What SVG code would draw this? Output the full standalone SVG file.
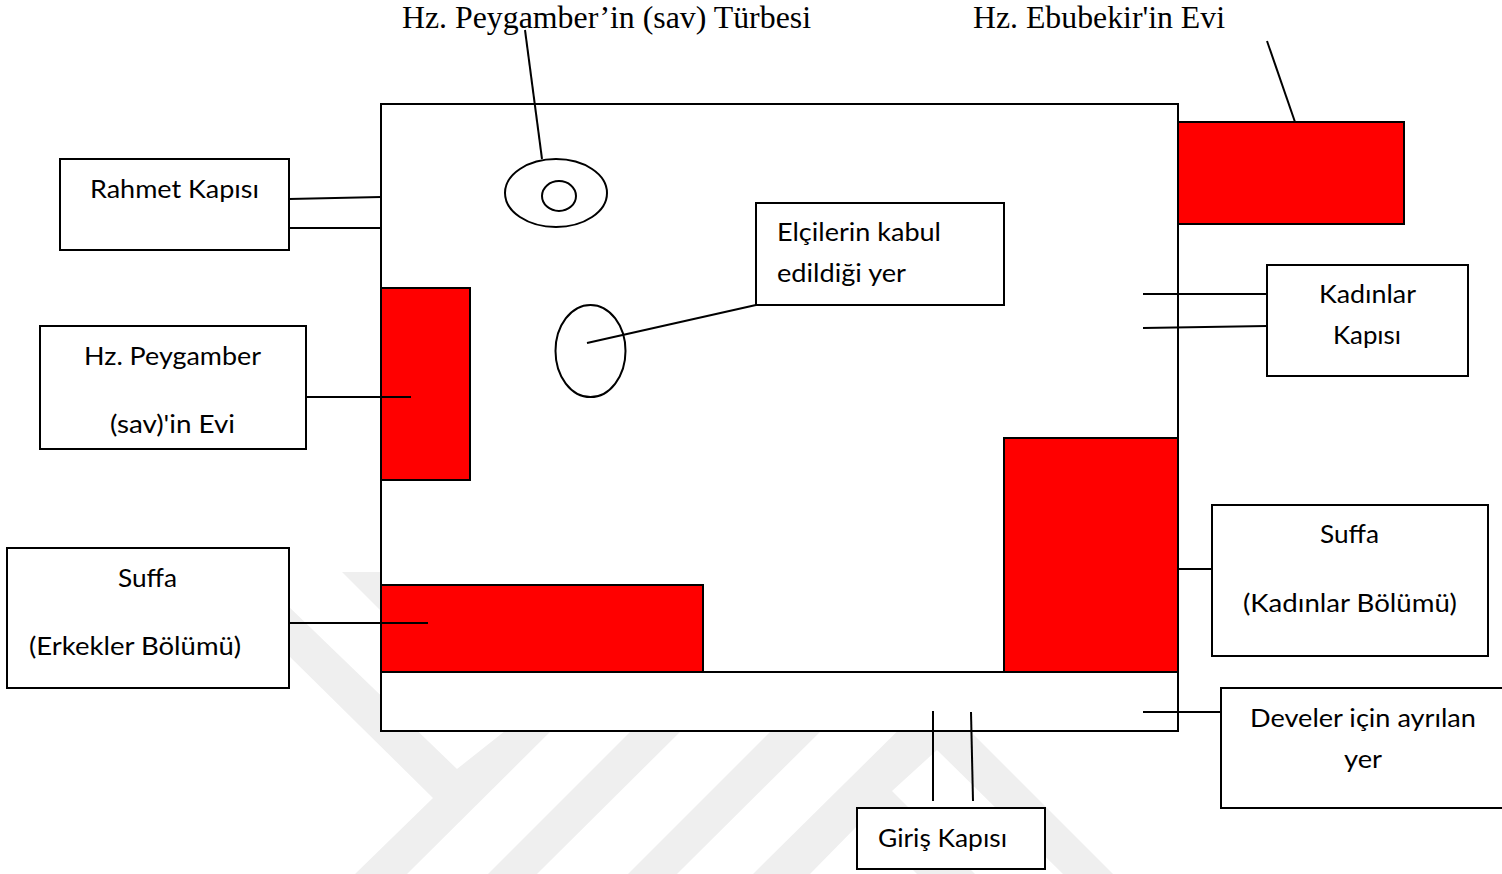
<svg xmlns="http://www.w3.org/2000/svg" width="1502" height="874" viewBox="0 0 1502 874">
<style>
.wm{fill:#efefef;stroke:none}
.box{fill:#ffffff;stroke:#000;stroke-width:2}
.red{fill:#ff0000;stroke:#000;stroke-width:2}
.ell{fill:#ffffff;stroke:#000;stroke-width:2}
.ln{fill:none;stroke:#000;stroke-width:2}
.lb{font-family:"Lato","Noto Sans",sans-serif;font-size:25px;fill:#000}
.tt{font-family:"Liberation Serif",serif;font-size:32px;fill:#000}
</style>
<rect width="1502" height="874" fill="#ffffff"/>
<g id="watermark">
<polygon class="wm" points="342,572 400,572 400,630"/>
<polygon class="wm" points="285,603 457,769 510,727 555,727 407,874 355,874 433,798 285,652"/>
<polygon class="wm" points="488,874 637,725 687,725 537,874"/>
<polygon class="wm" points="628,874 777,725 827,725 677,874"/>
<polygon class="wm" points="753,874 934,695 1113,874 1063,874 937,750 892,791 975,874 917,874 863,820 810,874"/>
</g>
<g id="plan">
<rect id="frame" class="box" x="381" y="104" width="797" height="627"/>
<line class="ln" x1="381" y1="672" x2="1178" y2="672"/>
</g>
<g id="red-areas">
<rect id="ev-peygamber" class="red" x="381" y="288" width="89" height="192"/>
<rect id="suffa-erkekler" class="red" x="381" y="585" width="322" height="87"/>
<rect id="suffa-kadinlar" class="red" x="1004" y="438" width="174" height="234"/>
<rect id="ev-ebubekir" class="red" x="1178" y="122" width="226" height="102"/>
</g>
<g id="turbe">
<ellipse class="ell" cx="556" cy="193" rx="51" ry="34"/>
<ellipse class="ell" cx="559" cy="196" rx="17" ry="15"/>
</g>
<g id="kabul-yeri">
<ellipse class="ell" cx="590.500" cy="351" rx="35" ry="46"/>
</g>
<g id="connectors">
<line class="ln" x1="525" y1="30" x2="542" y2="159"/>
<line class="ln" x1="1267" y1="41" x2="1295" y2="122"/>
<line class="ln" x1="289" y1="199" x2="381" y2="197"/>
<line class="ln" x1="289" y1="228" x2="381" y2="228"/>
<line class="ln" x1="306" y1="397" x2="411" y2="397"/>
<line class="ln" x1="587" y1="343" x2="756" y2="305"/>
<line class="ln" x1="1143" y1="294" x2="1267" y2="294"/>
<line class="ln" x1="1143" y1="328" x2="1267" y2="326"/>
<line class="ln" x1="1178" y1="569" x2="1212" y2="569"/>
<line class="ln" x1="289" y1="623" x2="428" y2="623"/>
<line class="ln" x1="1143" y1="712" x2="1221" y2="712"/>
<line class="ln" x1="933" y1="711" x2="933" y2="801"/>
<line class="ln" x1="971" y1="712" x2="973" y2="801"/>
</g>
<g id="title-turbe"><text class="tt" x="402" y="28" textLength="409" lengthAdjust="spacingAndGlyphs">Hz. Peygamber’in (sav) Türbesi</text></g>
<g id="title-ebubekir"><text class="tt" x="973" y="28" textLength="252" lengthAdjust="spacingAndGlyphs">Hz. Ebubekir'in Evi</text></g>
<g id="rahmet-kapisi"><rect class="box" x="60" y="159" width="229" height="91"/>
<text class="lb" x="90" y="198" textLength="169" lengthAdjust="spacingAndGlyphs">Rahmet Kapısı</text></g>
<g id="peygamber-evi"><rect class="box" x="40" y="326" width="266" height="123"/>
<text class="lb" x="84" y="365" textLength="177" lengthAdjust="spacingAndGlyphs">Hz. Peygamber</text>
<text class="lb" x="110" y="433" textLength="125" lengthAdjust="spacingAndGlyphs">(sav)'in Evi</text></g>
<g id="suffa-erkek-label"><rect class="box" x="7" y="548" width="282" height="140"/>
<text class="lb" x="118" y="587" textLength="59" lengthAdjust="spacingAndGlyphs">Suffa</text>
<text class="lb" x="29" y="655" textLength="212" lengthAdjust="spacingAndGlyphs">(Erkekler Bölümü)</text></g>
<g id="elciler"><rect class="box" x="756" y="203" width="248" height="102"/>
<text class="lb" x="777" y="241" textLength="164" lengthAdjust="spacingAndGlyphs">Elçilerin kabul</text>
<text class="lb" x="777" y="282" textLength="129" lengthAdjust="spacingAndGlyphs">edildiği yer</text></g>
<g id="kadinlar-kapisi"><rect class="box" x="1267" y="265" width="201" height="111"/>
<text class="lb" x="1319" y="303" textLength="97" lengthAdjust="spacingAndGlyphs">Kadınlar</text>
<text class="lb" x="1333" y="344" textLength="68" lengthAdjust="spacingAndGlyphs">Kapısı</text></g>
<g id="suffa-kadin-label"><rect class="box" x="1212" y="505" width="276" height="151"/>
<text class="lb" x="1320" y="543" textLength="59" lengthAdjust="spacingAndGlyphs">Suffa</text>
<text class="lb" x="1243" y="612" textLength="214" lengthAdjust="spacingAndGlyphs">(Kadınlar Bölümü)</text></g>
<g id="develer"><rect class="box" x="1221" y="688" width="284" height="120"/>
<text class="lb" x="1250" y="727" textLength="226" lengthAdjust="spacingAndGlyphs">Develer için ayrılan</text>
<text class="lb" x="1344" y="768" textLength="38" lengthAdjust="spacingAndGlyphs">yer</text></g>
<g id="giris-kapisi"><rect class="box" x="857" y="808" width="188" height="61"/>
<text class="lb" x="878" y="847" textLength="129" lengthAdjust="spacingAndGlyphs">Giriş Kapısı</text></g>
</svg>
